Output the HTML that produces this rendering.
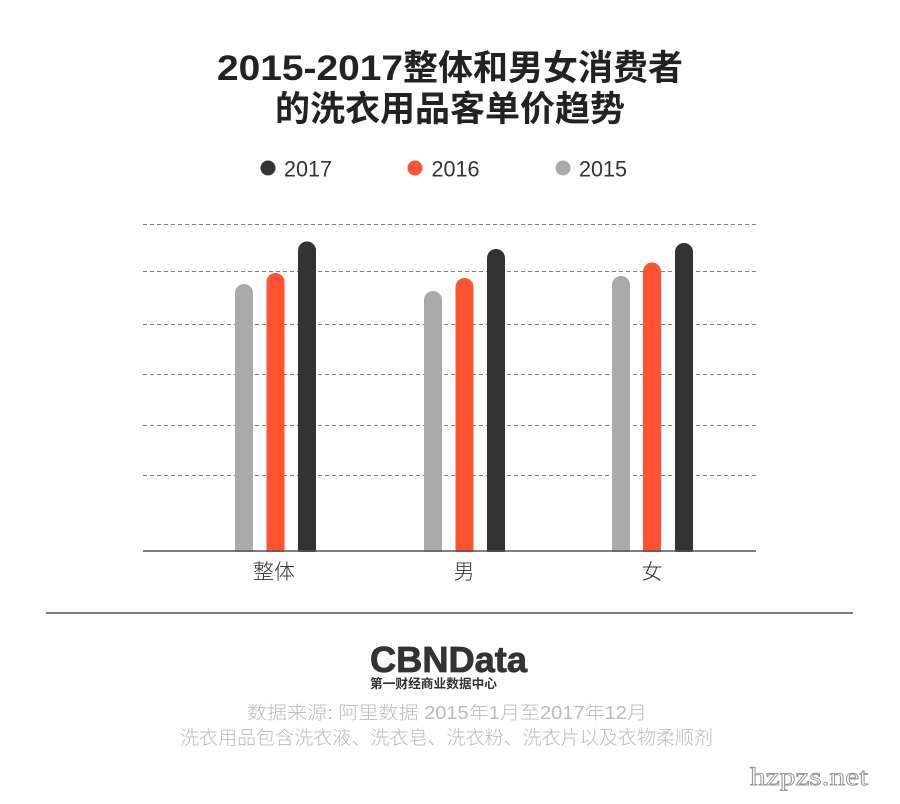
<!DOCTYPE html>
<html>
<head>
<meta charset="utf-8">
<style>
  html, body { margin: 0; padding: 0; background: #ffffff; }
  body { width: 900px; height: 804px; overflow: hidden; }
  svg { display: block; }
  .cjk { font-family: "Liberation Sans", "Noto Sans CJK SC", sans-serif; }
</style>
</head>
<body>
<svg width="900" height="804" viewBox="0 0 900 804" xmlns="http://www.w3.org/2000/svg">
  <rect x="0" y="0" width="900" height="804" fill="#ffffff"/>

  <!-- Title -->
  <text x="217" y="80" font-family="Liberation Sans, sans-serif" font-weight="bold" font-size="35" fill="#222" textLength="186" lengthAdjust="spacingAndGlyphs">2015-2017</text>
  <text x="403" y="80" font-family="Liberation Sans, Noto Sans CJK SC, sans-serif" font-weight="bold" font-size="35" fill="#222" textLength="280" lengthAdjust="spacingAndGlyphs">整体和男女消费者</text>
  <text x="275" y="121" font-family="Liberation Sans, Noto Sans CJK SC, sans-serif" font-weight="bold" font-size="35" fill="#222" textLength="350" lengthAdjust="spacingAndGlyphs">的洗衣用品客单价趋势</text>

  <!-- Legend -->
  <circle cx="268" cy="168" r="7.5" fill="#333333"/>
  <text x="284" y="176.5" font-family="Liberation Sans, sans-serif" font-size="22" fill="#333" textLength="48" lengthAdjust="spacingAndGlyphs">2017</text>
  <circle cx="415" cy="168" r="7.5" fill="#ff5331"/>
  <text x="431.5" y="176.5" font-family="Liberation Sans, sans-serif" font-size="22" fill="#333" textLength="48" lengthAdjust="spacingAndGlyphs">2016</text>
  <circle cx="563" cy="168" r="7.5" fill="#aaaaaa"/>
  <text x="579" y="176.5" font-family="Liberation Sans, sans-serif" font-size="22" fill="#333" textLength="48" lengthAdjust="spacingAndGlyphs">2015</text>

  <!-- Gridlines -->
  <g stroke="#808080" stroke-width="1" stroke-dasharray="4,3">
    <line x1="143" y1="224.5" x2="756" y2="224.5"/>
    <line x1="143" y1="271.5" x2="756" y2="271.5"/>
    <line x1="143" y1="324.5" x2="756" y2="324.5"/>
    <line x1="143" y1="374.5" x2="756" y2="374.5"/>
    <line x1="143" y1="425.5" x2="756" y2="425.5"/>
    <line x1="143" y1="475.5" x2="756" y2="475.5"/>
  </g>

  <!-- Bars: rounded top, flat bottom -->
  <!-- Group 1 -->
  <path d="M235,552 L235,293 A9,9 0 0 1 253,293 L253,552 Z" fill="#aaaaaa"/>
  <path d="M266.5,552 L266.5,282 A9,9 0 0 1 284.5,282 L284.5,552 Z" fill="#ff5331"/>
  <path d="M298,552 L298,250.5 A9,9 0 0 1 316,250.5 L316,552 Z" fill="#333333"/>
  <!-- Group 2 -->
  <path d="M424,552 L424,300 A9,9 0 0 1 442,300 L442,552 Z" fill="#aaaaaa"/>
  <path d="M455.5,552 L455.5,287 A9,9 0 0 1 473.5,287 L473.5,552 Z" fill="#ff5331"/>
  <path d="M487,552 L487,258 A9,9 0 0 1 505,258 L505,552 Z" fill="#333333"/>
  <!-- Group 3 -->
  <path d="M612,552 L612,285 A9,9 0 0 1 630,285 L630,552 Z" fill="#aaaaaa"/>
  <path d="M643,552 L643,271.5 A9,9 0 0 1 661,271.5 L661,552 Z" fill="#ff5331"/>
  <path d="M675,552 L675,252 A9,9 0 0 1 693,252 L693,552 Z" fill="#333333"/>

  <!-- Axis -->
  <line x1="143" y1="551" x2="756" y2="551" stroke="#555" stroke-width="1.5"/>

  <!-- Category labels -->
  <g font-family="Liberation Sans, Noto Sans CJK SC, sans-serif" font-size="21" font-weight="300" fill="#333" text-anchor="middle">
    <text x="274" y="579">整体</text>
    <text x="464" y="579">男</text>
    <text x="652" y="579">女</text>
  </g>

  <!-- Separator -->
  <line x1="46" y1="613" x2="853" y2="613" stroke="#555" stroke-width="1.5"/>

  <!-- Logo -->
  <text x="370" y="672" font-family="Liberation Sans, sans-serif" font-weight="bold" font-size="36" fill="#333" stroke="#333" stroke-width="0.8" textLength="157" lengthAdjust="spacingAndGlyphs">CBNData</text>
  <text x="370" y="688" font-family="Liberation Sans, Noto Sans CJK SC, sans-serif" font-weight="bold" font-size="12.7" fill="#333" textLength="127" lengthAdjust="spacingAndGlyphs">第一财经商业数据中心</text>

  <!-- Source -->
  <text x="247" y="719" font-family="Liberation Sans, Noto Sans CJK SC, sans-serif" font-weight="300" font-size="18" fill="#bbbbbb" textLength="400" lengthAdjust="spacingAndGlyphs">数据来源: 阿里数据  2015年1月至2017年12月</text>
  <text x="180" y="744" font-family="Liberation Sans, Noto Sans CJK SC, sans-serif" font-weight="300" font-size="19" fill="#bbbbbb" textLength="533" lengthAdjust="spacingAndGlyphs">洗衣用品包含洗衣液、洗衣皂、洗衣粉、洗衣片以及衣物柔顺剂</text>

  <!-- Watermark -->
  <text x="750" y="785" font-family="Liberation Serif, serif" font-size="25" fill="#ffffff" stroke="#999999" stroke-width="0.9" textLength="118" lengthAdjust="spacingAndGlyphs">hzpzs.net</text>
</svg>
</body>
</html>
